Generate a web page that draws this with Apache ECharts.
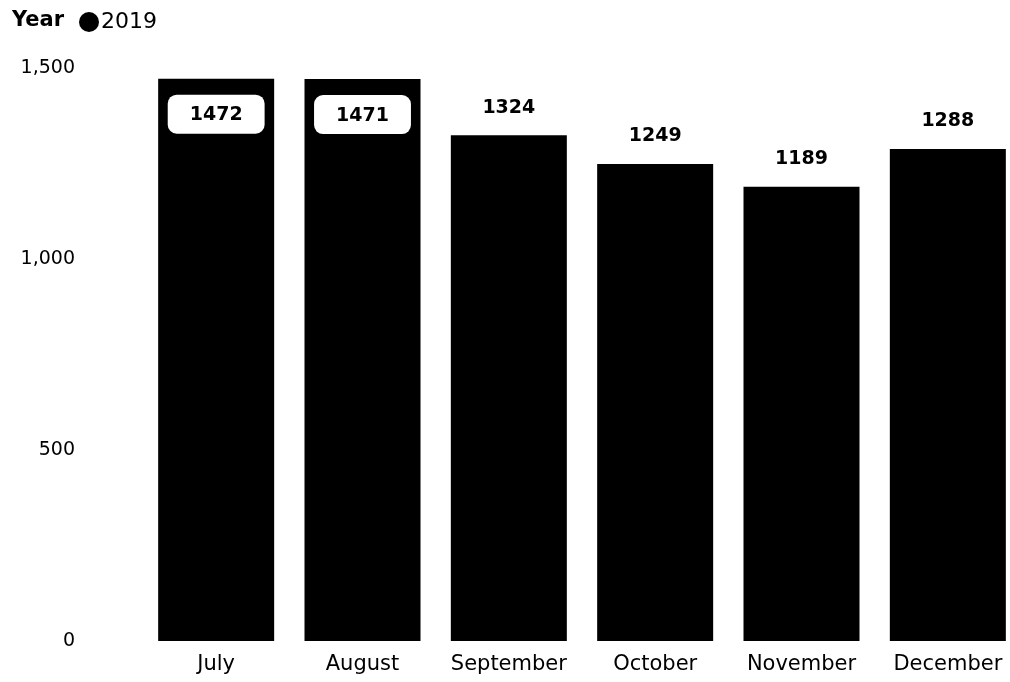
<!DOCTYPE html>
<html>
<head>
<meta charset="utf-8">
<script src="https://cdn.jsdelivr.net/npm/echarts@6/dist/echarts.min.js"></script>
<style>html,body{margin:0;padding:0;background:#fff;overflow:hidden}#c{width:1021px;height:682px}</style>
</head>
<body>
<div id="c"></div>
<script>
const categories = ["July", "August", "September", "October", "November", "December"];
const values2019 = [1472, 1471, 1324, 1249, 1189, 1288];
const insideLabels = [true, true, false, false, false, false];
const yTicks = [0, 500, 1000, 1500];
const seriesName = "2019";
const legendTitle = "Year";

const font = "DejaVu Sans";
const chart = echarts.init(document.getElementById('c'));
const data = values2019.map((v, i) => {
  const d = { value: v };
  if (insideLabels[i]) {
    d.label = {
      position: 'insideTop', distance: 16,
      backgroundColor: '#fff', borderRadius: 9,
      padding: [11, 22, 9, 22], color: '#000'
    };
  }
  return d;
});
chart.setOption({
  animation: false,
  title: { text: legendTitle, left: 7, top: 5, textStyle: { fontFamily: font, fontSize: 21, fontWeight: 'bold', color: '#000' } },
  legend: {
    left: 74, top: 6, icon: 'circle', itemWidth: 20, itemHeight: 20, itemGap: 6,
    textStyle: { fontFamily: font, fontSize: 22, color: '#000', padding: [0,0,0,-3] },
    data: [seriesName]
  },
  grid: { left: 143, right: 0, top: 68, bottom: 41, containLabel: false },
  xAxis: {
    type: 'category', data: categories,
    axisLine: { show: false }, axisTick: { show: false },
    axisLabel: { fontFamily: font, fontSize: 21, color: '#000', margin: 13, interval: 0 }
  },
  yAxis: {
    type: 'value', min: yTicks[0], max: yTicks[yTicks.length - 1], interval: 500,
    splitLine: { show: false }, axisLine: { show: false }, axisTick: { show: false },
    axisLabel: { fontFamily: font, fontSize: 19, color: '#000', margin: 68,
      formatter: v => v.toLocaleString('en-US') }
  },
  series: [{
    name: seriesName, type: 'bar', data: data, barWidth: 116,
    itemStyle: { color: '#000' },
    label: { show: true, position: 'top', distance: 18, fontFamily: font, fontSize: 19, fontWeight: 'bold', color: '#000' }
  }]
});
</script>
</body>
</html>
